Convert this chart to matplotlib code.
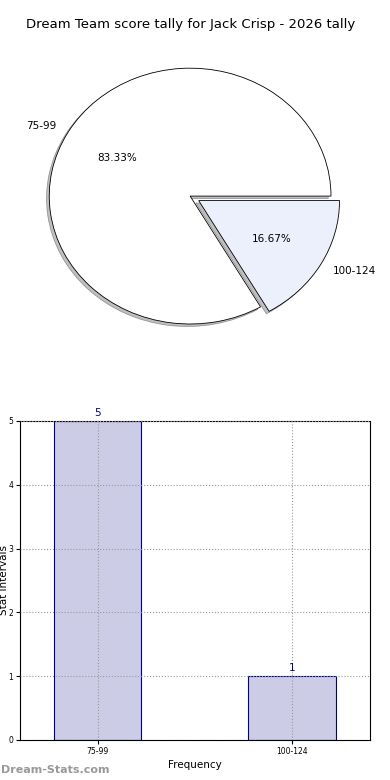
import matplotlib
matplotlib.use("Agg")
import matplotlib.pyplot as plt
import numpy as np

title = "Dream Team score tally for Jack Crisp - 2026 tally"
intervals = ["75-99", "100-124"]
counts = [5, 1]
pie_colors = ["#ffffff", "#ebf0fc"]
explode = [0, 0.07]

fig = plt.figure(figsize=(3.9, 7.8), dpi=100)

# pie (top)
ax1 = fig.add_axes([0.036, 0.5436, 0.903, 0.41])
wedges, texts, autotexts = ax1.pie(counts, labels=intervals, colors=pie_colors,
                                   explode=explode, autopct="%.2f%%",
                                   shadow={"ox": -0.014, "oy": -0.014, "facecolor": "#808080",
                                           "edgecolor": "#404040", "linewidth": 0.5},
                                   wedgeprops=dict(edgecolor="black", linewidth=0.6),
                                   textprops=dict(fontsize=7.5))
ax1.set_aspect("auto")
ax1.set_xlim(-1.25, 1.25)
ax1.set_ylim(-1.25, 1.25)
ax1.set_title(title, fontsize=9.5, pad=6)

# bars (bottom)
ax2 = fig.add_axes([0.0513, 0.0513, 0.897, 0.409])
x = np.arange(len(intervals))
bars = ax2.bar(x, counts, width=0.45, color="#ccccE6", edgecolor="#000080", linewidth=0.8, zorder=2)
for xi, c in zip(x, counts):
    ax2.text(xi, c + 0.05, str(c), ha="center", va="bottom", color="#000080", fontsize=7.5)
ax2.set_xlim(-0.4, 1.4)
ax2.set_ylim(0, 5)
ax2.set_xticks(x)
ax2.set_xticklabels(intervals)
ax2.set_yticks(range(0, 6))
ax2.tick_params(labelsize=5.5, length=3, pad=2)
ax2.grid(True, linestyle=":", color="#999999", linewidth=0.8, zorder=0)
ax2.set_axisbelow(False)
ax2.set_xlabel("Frequency", fontsize=7.5, labelpad=3)
ax2.set_ylabel("Stat Intervals", fontsize=7.5)
ax2.yaxis.set_label_coords(-0.032, 0.5)

fig.text(0.002, 0.009, "Dream-Stats.com", color="#999999", fontsize=8, fontweight="bold")

fig.savefig("out.png", dpi=100)
